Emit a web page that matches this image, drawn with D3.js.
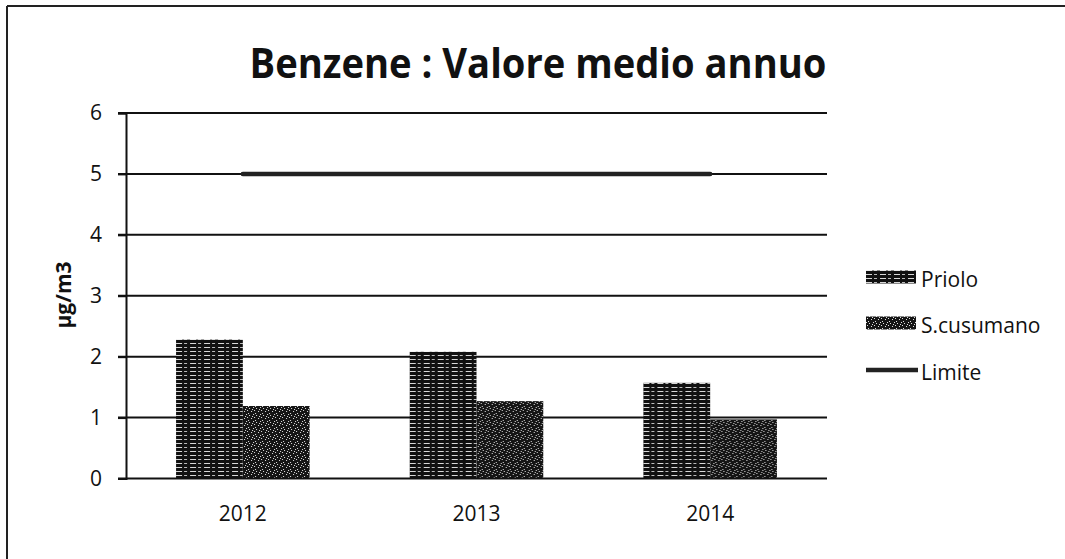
<!DOCTYPE html>
<html>
<head>
<meta charset="utf-8">
<script src="https://cdn.jsdelivr.net/npm/d3@7/dist/d3.min.js"></script>
<style>
  html, body { margin: 0; padding: 0; background: #fff; }
  svg { display: block; font-family: "Open Sans", sans-serif; }
</style>
</head>
<body>
<svg id="chart" width="1065" height="559"></svg>
<script>
// data
var years = ["2012", "2013", "2014"];
var seriesNames = ["Priolo", "S.cusumano"];
var priolo = [2.28, 2.08, 1.57];
var scusumano = [1.19, 1.27, 0.97];
var limite = [5, 5, 5];
var yTicks = [0, 1, 2, 3, 4, 5, 6];

var margin = { top: 113, right: 238, bottom: 80.5, left: 126 },
    width = 1065 - margin.left - margin.right,
    height = 559 - margin.top - margin.bottom;

var svg = d3.select("#chart");

// fill patterns, like the scanned hatching
var defs = svg.append("defs");
var p1 = defs.append("pattern").attr("id", "pat-priolo")
    .attr("patternUnits", "userSpaceOnUse").attr("width", 14).attr("height", 4);
p1.append("rect").attr("width", 14).attr("height", 4).attr("fill", "#111");
p1.append("rect").attr("x", 0).attr("y", 2).attr("width", 6).attr("height", 1).attr("fill", "#d8d8d8");
p1.append("rect").attr("x", 8).attr("y", 2).attr("width", 3).attr("height", 1).attr("fill", "#bbb");

var p2 = defs.append("pattern").attr("id", "pat-scus")
    .attr("patternUnits", "userSpaceOnUse").attr("width", 7).attr("height", 7);
p2.append("rect").attr("width", 7).attr("height", 7).attr("fill", "#151515");
[[0, 0], [3, 1], [1, 3], [5, 4], [6, 2], [2, 6]].forEach(function (d) {
    p2.append("rect").attr("x", d[0]).attr("y", d[1]).attr("width", 1).attr("height", 1).attr("fill", "#e0e0e0");
});

// scanned page border (top and left edges visible)
svg.append("line").attr("x1", 7).attr("x2", 1065).attr("y1", 6).attr("y2", 6)
    .attr("stroke", "#222").attr("stroke-width", 2);
svg.append("line").attr("x1", 7).attr("x2", 7).attr("y1", 6).attr("y2", 559)
    .attr("stroke", "#222").attr("stroke-width", 2);

// title
svg.append("text")
    .attr("x", 538).attr("y", 78)
    .attr("text-anchor", "middle")
    .attr("font-weight", "bold")
    .attr("font-size", 41)
    .attr("textLength", 577).attr("lengthAdjust", "spacingAndGlyphs")
    .attr("fill", "#111")
    .text("Benzene : Valore medio annuo");

var g = svg.append("g").attr("transform", "translate(" + margin.left + "," + margin.top + ")");

var x = d3.scaleBand().domain(years).range([0, width]).padding(0);
var barW = x.bandwidth() / 3.5;
var x1 = d3.scaleBand().domain(seriesNames).range([0, barW * 2]);
var y = d3.scaleLinear().domain([0, 6]).range([height, 0]);

// gridlines
g.append("g").selectAll("line").data(yTicks.filter(function (t) { return t > 0; })).enter()
    .append("line")
    .attr("x1", -8).attr("x2", width)
    .attr("y1", function (d) { return y(d); }).attr("y2", function (d) { return y(d); })
    .attr("stroke", "#111").attr("stroke-width", 2);

// bars
var data = years.map(function (yr, i) { return { year: yr, vals: [priolo[i], scusumano[i]] }; });
var fills = ["url(#pat-priolo)", "url(#pat-scus)"];
var groups = g.selectAll(".grp").data(data).enter().append("g")
    .attr("class", "grp")
    .attr("transform", function (d) { return "translate(" + (x(d.year) + (x.bandwidth() - barW * 2) / 2) + ",0)"; });
groups.selectAll("rect").data(function (d) { return d.vals; }).enter().append("rect")
    .attr("x", function (d, i) { return x1(seriesNames[i]); })
    .attr("width", x1.bandwidth())
    .attr("y", function (d) { return y(d); })
    .attr("height", function (d) { return height - y(d); })
    .attr("fill", function (d, i) { return fills[i]; });

// limit line
var line = d3.line()
    .x(function (d, i) { return x(years[i]) + x.bandwidth() / 2; })
    .y(function (d) { return y(d); });
g.append("path").datum(limite)
    .attr("d", line)
    .attr("fill", "none").attr("stroke", "#222").attr("stroke-width", 4.5)
    .attr("stroke-linecap", "round");

// y axis
var yAxis = d3.axisLeft(y).tickValues(yTicks).tickFormat(d3.format("d")).tickSize(8).tickPadding(16);
var ya = g.append("g").call(yAxis);
ya.attr("font-size", 21).attr("font-family", "Open Sans, sans-serif");
ya.select(".domain").attr("stroke", "#111").attr("stroke-width", 2);
ya.selectAll(".tick line").attr("stroke", "#111").attr("stroke-width", 2);
ya.selectAll(".tick text").attr("fill", "#111");

// x axis
var xAxis = d3.axisBottom(x).tickSize(0).tickPadding(28);
var xa = g.append("g").attr("transform", "translate(0," + height + ")").call(xAxis);
xa.attr("font-size", 21).attr("font-family", "Open Sans, sans-serif");
xa.select(".domain").remove();
xa.selectAll(".tick text").attr("fill", "#111");
g.append("line").attr("x1", -8).attr("x2", width).attr("y1", height).attr("y2", height)
    .attr("stroke", "#111").attr("stroke-width", 2);

// y axis title
svg.append("text")
    .attr("transform", "translate(71,295) rotate(-90)")
    .attr("text-anchor", "middle")
    .attr("font-weight", "bold").attr("font-size", 21).attr("fill", "#111")
    .text("µg/m3");

// legend
var legend = svg.append("g").attr("transform", "translate(866,0)");
var legendItems = [
    { name: seriesNames[0], type: "bar", fill: fills[0], y: 277 },
    { name: seriesNames[1], type: "bar", fill: fills[1], y: 323 },
    { name: "Limite", type: "line", y: 370 }
];
legendItems.forEach(function (d) {
    if (d.type === "bar") {
        legend.append("rect").attr("x", 0).attr("y", d.y - 6.5).attr("width", 50).attr("height", 13)
            .attr("fill", d.fill);
    } else {
        legend.append("line").attr("x1", 0).attr("x2", 52).attr("y1", d.y).attr("y2", d.y)
            .attr("stroke", "#222").attr("stroke-width", 4.5);
    }
    legend.append("text").attr("x", 55).attr("y", d.y + 10)
        .attr("font-size", 21).attr("fill", "#111")
        .text(d.name);
});
</script>
</body>
</html>
